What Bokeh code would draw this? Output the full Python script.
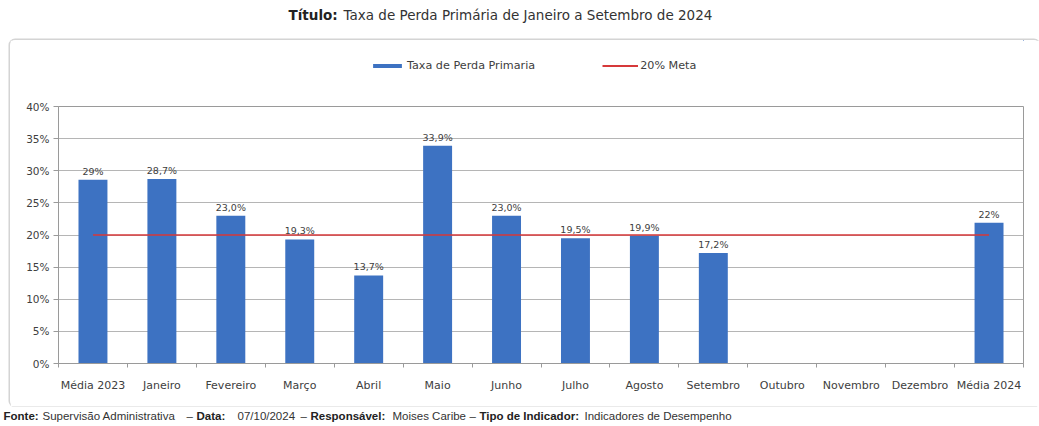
from bokeh.plotting import figure
from bokeh.layouts import column
from bokeh.models import (Range1d, FixedTicker, PrintfTickFormatter, Label,
                          Legend, LegendItem, ColumnDataSource)
from bokeh.core.properties import value
from bokeh.embed import file_html
from bokeh.resources import INLINE

# ---- data ----
categories = ["Média 2023", "Janeiro", "Fevereiro", "Março", "Abril", "Maio", "Junho",
              "Julho", "Agosto", "Setembro", "Outubro", "Novembro", "Dezembro", "Média 2024"]
taxa = [28.6, 28.7, 23.0, 19.3, 13.7, 33.9, 23.0, 19.5, 19.9, 17.2, None, None, None, 21.9]
taxa_labels = ["29%", "28,7%", "23,0%", "19,3%", "13,7%", "33,9%", "23,0%", "19,5%",
               "19,9%", "17,2%", "", "", "", "22%"]
meta = [20, 20, 20, 20, 20, 20, 20, 20, 20, 20, 20, 20, 20, 20]
y_ticks = [0, 5, 10, 15, 20, 25, 30, 35, 40]
series_names = ["Taxa de Perda Primaria", "20% Meta"]
title_bold = "Título:"
title_text = "Taxa de Perda Primária de Janeiro a Setembro de 2024"
footer_parts = [("Fonte:", True), ("Supervisão Administrativa", False), ("–", False),
                ("Data:", True), ("07/10/2024", False), ("–", False),
                ("Responsável:", True), ("Moises Caribe", False), ("–", False),
                ("Tipo de Indicador:", True), ("Indicadores de Desempenho", False)]
footer_x = [3, 42, 186, 196, 237, 300, 310, 392, 469, 479, 584]

BLUE = "#3d72c2"
RED = "#d6393a"
GRID = "#b5b5b5"
AXIS = "#9a9a9a"
TXT = "#404040"
FONT = "DejaVu Sans"
W = 1039
WB = 1029          # width of the boxed chart area
ML, MR = 48, 16    # plot-area borders inside the box


def blank_fig(w, h, ml=0, mr=0):
    f = figure(width=w, height=h, output_backend="svg", toolbar_location=None,
               x_axis_location=None, y_axis_location=None,
               min_border_left=ml, min_border_right=mr, min_border_top=0, min_border_bottom=0,
               x_range=Range1d(0, 1), y_range=Range1d(0, 1))
    f.outline_line_color = None
    f.grid.visible = False
    f.background_fill_color = "white"
    f.border_fill_color = "white"
    return f


# ---- title ----
tfig = blank_fig(W, 40)
tfig.add_layout(Label(x=288, y=26, x_units="screen", y_units="screen", text=title_bold,
                      text_font=FONT, text_font_style="bold", text_font_size="13.5px",
                      text_color="#222222", text_baseline="middle", text_align="left"))
tfig.add_layout(Label(x=343, y=26, x_units="screen", y_units="screen", text=title_text,
                      text_font=FONT, text_font_size="13.5px", text_color="#333333",
                      text_baseline="middle", text_align="left"))

# ---- shared geometry ----
n = len(categories)
centers = [i + 0.5 for i in range(n)]
bounds = [float(i) for i in range(n + 1)]
present = [i for i, v in enumerate(taxa) if v is not None]
src = ColumnDataSource(dict(
    x=[centers[i] for i in present],
    top=[taxa[i] for i in present],
    lab=[taxa_labels[i] for i in present],
))

# ---- legend strip (series kept far out of view, only their legend shows) ----
lfig = blank_fig(WB, 60, ML, MR)
lfig.x_range = Range1d(-1000, -999)
lfig.y_range = Range1d(-1000, -999)
leg_bar = lfig.vbar(x="x", top="top", width=0.42, bottom=0, source=src,
                    fill_color=BLUE, line_color=None)
leg_line = lfig.line(x=centers, y=meta, line_color=RED, line_width=1.8)
lfig.add_layout(Legend(items=[LegendItem(label=series_names[0], renderers=[leg_bar]),
                              LegendItem(label=series_names[1], renderers=[leg_line])],
                       orientation="horizontal", location=(311, 28),
                       background_fill_alpha=0, border_line_color=None, padding=0, margin=0,
                       glyph_width=36, glyph_height=5, label_standoff=2, spacing=67,
                       label_height=12, label_text_font=FONT, label_text_font_size="11.2px",
                       label_text_color=TXT))

# ---- main chart ----
p = figure(width=WB, height=306, output_backend="svg", toolbar_location=None,
           x_range=Range1d(0, n), y_range=Range1d(y_ticks[0], y_ticks[-1]),
           min_border_left=ML, min_border_right=MR, min_border_top=6, min_border_bottom=43)
p.background_fill_color = "white"
p.border_fill_color = "white"
p.outline_line_color = AXIS
p.outline_line_width = 1

bars = p.vbar(x="x", top="top", width=0.42, bottom=0, source=src,
              fill_color=BLUE, line_color=None)
line = p.line(x=centers, y=meta, line_color=RED, line_width=1.7)

p.text(x="x", y="top", text="lab", source=src, text_align="center", text_baseline="bottom",
       y_offset=-3, text_font=value(FONT), text_font_size="9.5px", text_color=TXT)

p.xgrid.visible = False
p.ygrid.grid_line_color = GRID
p.ygrid.grid_line_width = 1
p.yaxis.ticker = FixedTicker(ticks=y_ticks)
p.yaxis.formatter = PrintfTickFormatter(format="%d%%")
p.yaxis.axis_line_color = AXIS
p.yaxis.major_tick_line_color = AXIS
p.yaxis.major_tick_out = 5
p.yaxis.major_tick_in = 0
p.yaxis.minor_tick_line_color = None
p.yaxis.major_label_standoff = 4
p.yaxis.major_label_text_font = FONT
p.yaxis.major_label_text_font_size = "10.5px"
p.yaxis.major_label_text_color = TXT

p.xaxis.ticker = FixedTicker(ticks=centers, minor_ticks=bounds)
p.xaxis.major_label_overrides = {c: name for c, name in zip(centers, categories)}
p.xaxis.axis_line_color = AXIS
p.xaxis.major_tick_line_color = None
p.xaxis.major_tick_out = 0
p.xaxis.major_tick_in = 0
p.xaxis.minor_tick_line_color = AXIS
p.xaxis.minor_tick_out = 4
p.xaxis.minor_tick_in = 0
p.xaxis.major_label_standoff = 11
p.xaxis.major_label_text_font = FONT
p.xaxis.major_label_text_font_size = "11px"
p.xaxis.major_label_text_color = TXT

# ---- footer ----
ffig = blank_fig(W, 20)
for (txt, bold), xx in zip(footer_parts, footer_x):
    ffig.add_layout(Label(x=xx, y=11, x_units="screen", y_units="screen", text=txt,
                          text_font="Liberation Sans", text_font_size="11.5px",
                          text_font_style="bold" if bold else "normal",
                          text_color="#222222" if bold else "#333333",
                          text_baseline="middle", text_align="left"))

boxed = column(lfig, p, spacing=0, margin=(0, 0, 0, 10),
               styles={"box-shadow": "0 0 0 1.5px #d4d4d4", "border-radius": "5px"})
layout = column(tfig, boxed, ffig, spacing=0)
open("out.html", "w").write(file_html(layout, INLINE))
